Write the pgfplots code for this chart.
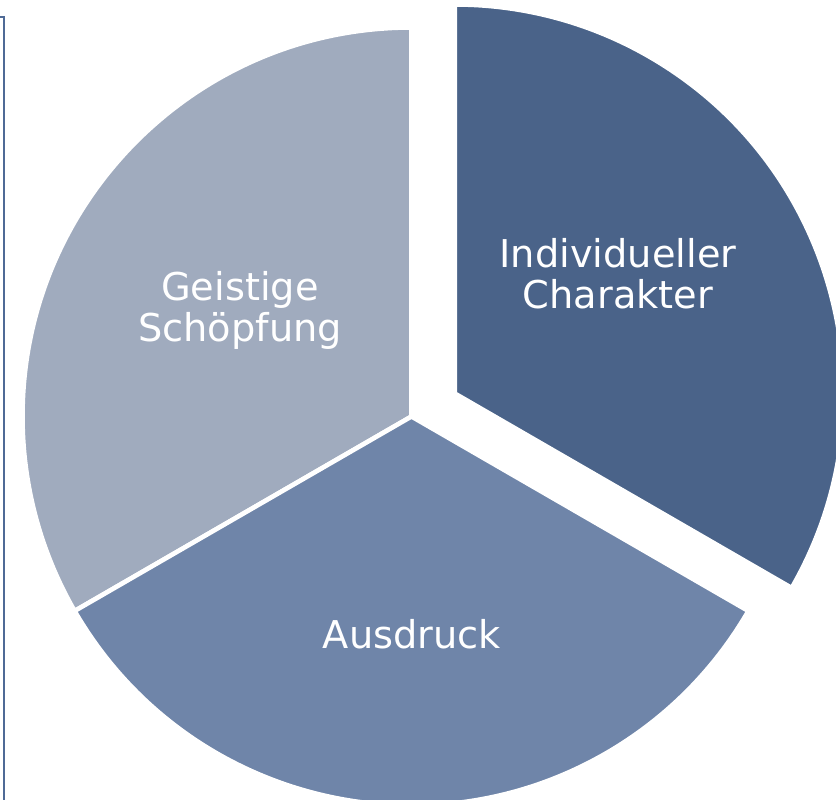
\documentclass[border=0pt]{standalone}
\usepackage{pgfplots}
\usepackage{pgfplotstable}
\usetikzlibrary{calc}
\usepackage{fontspec}
\setmainfont{DejaVu Sans}
\pgfplotsset{compat=1.18}
\definecolor{cLight}{HTML}{A0ABBE}
\definecolor{cMid}{HTML}{6F85A9}
\definecolor{cDark}{HTML}{4A6389}
\definecolor{cFrame}{HTML}{4F6A96}
\pgfplotstableread{
label value
Geistige 1
Ausdruck 1
Individueller 1
}\piedata
\begin{document}
\begin{tikzpicture}
\pgfplotstablegetelem{0}{value}\of\piedata \pgfmathsetmacro\va{\pgfplotsretval}
\pgfplotstablegetelem{1}{value}\of\piedata \pgfmathsetmacro\vb{\pgfplotsretval}
\pgfplotstablegetelem{2}{value}\of\piedata \pgfmathsetmacro\vc{\pgfplotsretval}
\pgfmathsetmacro\tot{\va+\vb+\vc}
\pgfmathsetmacro\aA{90}
\pgfmathsetmacro\aB{\aA+360*\va/\tot}
\pgfmathsetmacro\aC{\aB+360*\vb/\tot}
\pgfmathsetmacro\aD{\aC+360*\vc/\tot}
\pgfmathsetmacro\aMid{(\aC+\aD)/2}
\begin{axis}[
  scale only axis, x=0.1mm, y=0.1mm,
  xmin=0, xmax=836, ymin=0, ymax=800,
  hide axis, clip=true,
]
\addplot[draw=none] coordinates {(0,0) (836,800)};
% slices
\fill[cLight, draw=white, line width=1.3pt]
  (axis cs:411.5,383.5) -- ++(\aA:38.9mm) arc[start angle=\aA, end angle=\aB, radius=38.9mm] -- cycle;
\fill[cMid, draw=white, line width=1.3pt]
  (axis cs:411.5,383.5) -- ++(\aB:38.9mm) arc[start angle=\aB, end angle=\aC, radius=38.9mm] -- cycle;
\fill[cDark, draw=white, line width=1.3pt]
  ($(axis cs:411.5,381.5)+(\aMid:5mm)$) -- ++(\aC:38.9mm) arc[start angle=\aC, end angle=\aD, radius=38.9mm] -- cycle;
% frame line at left
\addplot[cFrame, line width=0.75pt] coordinates {(0,783) (4,783) (4,0)};
% labels
\node[text=white, align=center, inner sep=0pt, font=\fontsize{10.9pt}{11.67pt}\selectfont] at (axis cs:618,526) {Individueller\\Charakter};
\node[text=white, align=center, inner sep=0pt, font=\fontsize{10.9pt}{11.67pt}\selectfont] at (axis cs:240,489.5) {Geistige\\Schöpfung};
\node[text=white, align=center, inner sep=0pt, font=\fontsize{10.9pt}{11.67pt}\selectfont] at (axis cs:412,166) {Ausdruck};
\end{axis}
\pgfresetboundingbox
\useasboundingbox (current axis.south west) rectangle (current axis.north east);
\end{tikzpicture}
\end{document}
